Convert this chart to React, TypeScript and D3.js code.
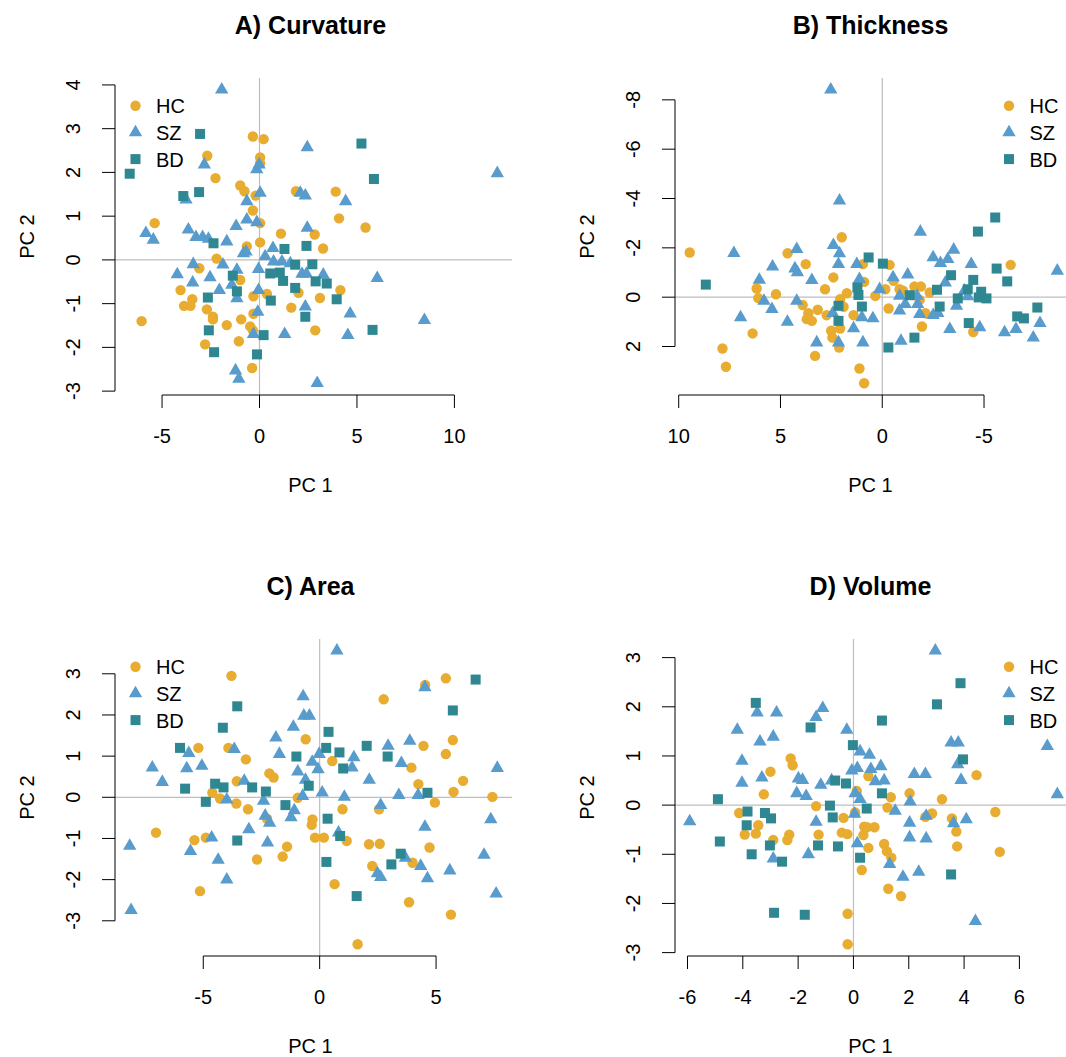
import React from "react";
import * as d3 from "d3";

// PC scores, [PC1, PC2]
const curvHC = [[-0.34,2.82],[0.21,2.76],[-2.68,2.38],[0.03,2.34],[0.03,2.21],[-2.26,1.87],[-0.99,1.7],[-0.77,1.57],[-0.2,1.47],[-0.34,1.13],[0.03,0.84],[-5.38,0.84],[1.1,0.6],[0.03,0.4],[-0.65,0.31],[-2.2,0.03],[-3.09,-0.19],[-0.99,-0.46],[-4.05,-0.69],[-3.45,-0.9],[-3.87,-1.05],[-3.54,-1.05],[-2.7,-1.13],[-2.39,-1.3],[-2.39,-1.36],[-6.05,-1.4],[-1.68,-1.49],[-0.94,-1.36],[-0.48,-1.52],[-0.34,-1.61],[-0.31,-0.83],[0.38,-0.78],[-0.31,-1.23],[-2.79,-1.93],[-1.06,-1.86],[-0.38,-2.47],[2.0,-0.75],[1.63,-1.09],[1.87,1.57],[3.91,1.56],[4.08,0.95],[5.44,0.74],[2.83,0.58],[3.26,0.26],[4.15,-0.69],[3.1,-0.87],[2.86,-1.61]];
const curvSZ = [[-1.94,3.89],[-2.83,2.18],[-0.14,2.07],[-0.02,2.18],[0.03,1.53],[-3.77,1.38],[-0.65,1.34],[-0.65,0.92],[-0.14,0.86],[-1.2,0.77],[-5.83,0.61],[-5.45,0.46],[-3.65,0.69],[-3.26,0.52],[-2.92,0.52],[-2.62,0.48],[-1.68,0.42],[-0.82,0.15],[-0.69,0.19],[0.69,0.27],[0.29,0.08],[1.15,-0.04],[0.72,-0.04],[-3.4,-0.1],[-1.88,-0.11],[-1.16,-0.23],[-0.05,-0.21],[-4.22,-0.33],[-3.43,-0.52],[-2.54,-0.4],[-2.06,-0.69],[-1.42,-0.57],[-1.16,-0.88],[-0.05,-0.69],[-0.09,-1.19],[-0.31,-1.7],[1.29,-1.7],[-1.23,-2.53],[-1.06,-2.72],[2.45,2.57],[2.45,0.73],[2.09,1.53],[2.35,1.47],[1.58,-0.08],[2.18,-0.32],[2.41,-0.32],[2.35,-1.07],[4.42,1.34],[12.2,1.98],[3.27,-0.34],[6.04,-0.42],[4.65,-1.23],[8.46,-1.38],[4.53,-1.72],[2.96,-2.82]];
const curvBD = [[-3.05,2.88],[-6.66,1.97],[-3.91,1.46],[-3.1,1.55],[-2.36,0.38],[1.28,0.25],[2.41,0.32],[1.83,-0.11],[2.71,-0.1],[-1.37,-0.36],[0.55,-0.31],[1.04,-0.29],[1.21,-0.48],[1.83,-0.64],[-1.16,-0.72],[-2.65,-0.86],[0.58,-0.93],[2.35,-1.3],[-2.6,-1.61],[0.21,-1.72],[-2.33,-2.11],[-0.13,-2.16],[5.23,2.66],[5.87,1.85],[2.88,-0.49],[3.45,-0.54],[3.96,-0.9],[5.8,-1.6]];

const thickHC = [[9.46,-1.81],[7.85,2.08],[7.68,2.82],[6.37,1.47],[6.17,-0.35],[6.09,0.04],[5.22,-0.12],[4.65,-1.78],[3.76,-1.34],[3.91,0.32],[3.63,0.65],[3.71,0.89],[3.46,0.96],[3.17,0.51],[2.81,-0.32],[2.4,-0.8],[2.73,0.73],[2.07,0.08],[1.99,-2.43],[1.9,0.39],[1.74,-0.16],[2.51,1.36],[2.45,1.64],[2.07,1.27],[2.12,2.04],[3.3,2.38],[1.41,0.73],[0.95,-1.34],[0.89,-0.62],[1.12,2.89],[0.89,3.49],[-0.36,-1.31],[-0.15,-0.32],[0.34,-0.05],[-0.56,-0.66],[-0.85,-0.32],[-1.02,-0.26],[-1.58,-0.43],[-1.9,-0.43],[-2.33,-0.19],[-1.84,0.11],[-0.31,0.46],[-2.12,0.65],[-1.95,1.19],[-4.47,1.41],[-6.31,-1.31]];
const thickSZ = [[2.53,-8.41],[2.1,-3.91],[7.29,-1.78],[5.39,-1.24],[4.2,-1.95],[4.29,-1.16],[4.17,-1.0],[6.04,-0.7],[3.46,-0.69],[5.81,0.15],[5.42,0.49],[4.2,0.15],[6.96,0.82],[4.66,1.0],[3.22,1.84],[2.4,-2.11],[2.1,-1.77],[2.15,-1.34],[1.25,-1.34],[1.12,-0.73],[2.43,0.65],[1.41,1.27],[2.15,1.84],[0.95,1.84],[1.0,0.82],[-1.87,-2.65],[-2.5,-1.61],[-2.86,-1.38],[-3.22,-1.54],[-3.51,-1.92],[-4.37,-1.34],[-1.25,-0.91],[-0.53,-0.8],[0.13,-0.32],[-0.85,-0.05],[-1.13,0.28],[-1.71,-0.05],[-1.74,0.28],[-0.85,0.55],[-1.84,0.69],[-2.5,0.73],[-2.73,0.65],[-3.1,-0.59],[-3.65,0.35],[-4.04,-0.26],[-4.2,-0.03],[0.46,0.86],[-0.92,1.77],[-3.32,1.3],[-4.79,1.23],[-6.01,1.43],[-6.57,1.3],[-7.42,1.64],[-7.75,1.05],[-8.6,-1.07]];
const thickBD = [[8.67,-0.51],[0.67,-1.61],[1.22,-0.39],[1.17,-0.09],[2.15,0.35],[1.0,0.38],[2.15,0.96],[-0.03,-1.36],[-1.35,-0.08],[-2.69,-0.3],[-3.38,-0.89],[-2.82,0.38],[-3.71,0.05],[-4.2,-0.32],[-4.47,-0.7],[-4.74,0.01],[-4.86,-0.22],[-5.12,0.05],[-4.7,-2.66],[-5.55,-3.23],[-5.62,-1.16],[-6.14,-0.64],[-6.63,0.78],[-6.96,0.86],[-7.62,0.42],[-4.25,1.05],[-1.58,1.64],[-0.3,2.04]];

const areaHC = [[-3.79,2.95],[-5.21,1.2],[-3.92,1.2],[-3.17,0.92],[-0.6,1.41],[-3.56,0.39],[-2.16,0.58],[-1.98,0.48],[-4.61,0.11],[-4.28,-0.03],[-3.58,-0.15],[-3.08,-0.29],[-0.94,-0.01],[-2.26,-0.52],[-0.31,-0.54],[-0.34,-0.67],[-0.2,-0.98],[0.18,-0.98],[-7.03,-0.86],[-5.38,-1.04],[-4.89,-0.98],[-1.4,-1.2],[-2.69,-1.51],[-1.59,-1.44],[-5.14,-2.28],[4.53,2.73],[5.42,2.89],[2.75,2.38],[5.72,1.39],[4.46,1.25],[5.42,1.05],[0.54,0.88],[3.94,0.72],[4.24,0.32],[6.16,0.4],[5.75,0.13],[4.95,-0.13],[7.42,0.01],[0.98,-0.29],[2.55,-0.29],[1.16,-1.06],[2.12,-1.14],[2.58,-1.13],[4.72,-1.22],[2.26,-1.67],[3.99,-1.59],[0.64,-2.11],[3.84,-2.55],[5.64,-2.85],[1.63,-3.57]];
const areaSZ = [[-0.71,2.45],[-0.68,1.98],[-0.44,1.98],[-1.13,1.71],[-1.88,1.45],[-1.73,1.05],[-3.67,1.17],[-5.62,1.07],[-7.19,0.72],[-5.71,0.7],[-5.06,0.76],[-6.76,0.37],[-3.24,0.4],[-0.94,0.62],[-0.32,0.86],[-0.61,0.42],[-0.02,1.05],[-0.07,0.68],[-0.73,0.03],[-3.99,-0.06],[-2.41,-0.09],[-2.34,-0.45],[-2.15,-0.62],[-1.09,-0.32],[-1.23,-0.49],[-3.04,-0.78],[-2.24,-1.1],[-4.64,-0.98],[-8.16,-1.18],[-5.55,-1.31],[-4.36,-1.52],[-3.99,-2.0],[-8.1,-2.74],[0.74,3.56],[4.52,2.67],[3.87,1.37],[2.94,1.25],[1.47,0.97],[1.39,0.72],[3.51,0.83],[2.13,0.42],[7.63,0.71],[0.11,0.11],[1.06,0.01],[3.4,0.05],[4.23,0.05],[2.62,-0.19],[0.81,-0.86],[4.52,-0.72],[7.35,-0.54],[3.68,-1.47],[4.34,-1.67],[2.48,-1.85],[2.62,-1.94],[4.63,-1.97],[5.59,-1.78],[7.06,-1.4],[7.58,-2.34]];
const areaBD = [[-3.54,2.21],[-4.16,1.69],[-6.0,1.2],[-5.78,0.21],[-4.49,0.33],[-4.13,0.24],[-2.9,0.24],[-2.31,0.14],[-4.89,-0.11],[-1.47,-0.19],[-1.0,0.99],[-0.47,0.28],[-3.54,-1.05],[6.7,2.86],[5.72,2.11],[0.38,1.59],[0.28,1.2],[0.85,1.09],[2.02,1.25],[2.92,0.99],[1.01,0.7],[4.63,0.11],[0.34,-0.52],[0.88,-0.94],[0.29,-1.57],[3.48,-1.37],[3.08,-1.63],[1.59,-2.4]];

const volHC = [[-2.27,0.95],[-2.2,0.81],[-3.0,0.68],[-3.24,0.22],[-4.13,-0.16],[-1.35,-0.02],[-0.36,-0.26],[0.06,-0.15],[0.12,0.29],[-3.44,-0.41],[-3.93,-0.6],[-3.53,-0.58],[-2.9,-0.71],[-2.32,-0.6],[-2.39,-0.71],[-1.26,-0.6],[-0.42,-0.56],[-0.22,-0.59],[0.39,-0.44],[0.36,-0.61],[0.54,-0.87],[0.3,-1.32],[-0.21,-2.21],[-0.21,-2.83],[0.54,0.59],[2.03,0.24],[1.35,0.16],[1.23,-0.05],[3.2,0.12],[5.13,-0.14],[4.45,0.61],[2.6,-0.24],[2.84,-0.17],[3.56,-0.27],[3.72,-0.54],[3.75,-0.84],[5.29,-0.95],[0.49,-0.45],[0.76,-0.45],[1.11,-0.79],[1.21,-0.94],[1.37,-1.07],[1.26,-1.7],[1.72,-1.85]];
const volSZ = [[-3.48,1.88],[-2.78,1.88],[-4.2,1.53],[-3.38,1.29],[-2.9,1.39],[-1.11,1.97],[-1.35,1.79],[-0.24,1.53],[0.24,1.09],[-4.03,0.9],[-3.31,0.56],[-4.03,0.45],[-1.99,0.54],[-1.84,0.51],[-2.05,0.24],[-1.71,0.18],[-1.18,0.41],[-0.79,0.5],[-0.06,0.7],[0.14,0.75],[0.06,0.24],[0.24,0.12],[0.04,-0.18],[-1.35,-0.34],[-5.92,-0.33],[0.14,-0.78],[-2.9,-1.09],[-1.63,-1.0],[2.96,3.14],[3.53,1.27],[3.79,1.27],[7.01,1.2],[3.77,0.83],[3.89,0.51],[7.37,0.22],[0.58,1.02],[0.63,0.73],[0.99,0.79],[0.79,0.48],[1.11,0.5],[2.05,0.07],[2.2,0.63],[2.6,0.63],[1.51,-0.12],[2.63,-0.22],[2.03,-0.36],[3.62,-0.37],[4.08,-0.29],[2.03,-0.66],[2.63,-0.68],[1.31,-1.2],[1.79,-1.46],[2.36,-1.36],[4.41,-2.36]];
const volBD = [[-3.53,2.08],[-1.55,1.58],[-0.02,1.22],[-0.66,0.5],[-0.27,0.44],[-4.9,0.12],[-3.83,-0.13],[-3.2,-0.16],[-2.98,-0.27],[-3.86,-0.41],[-0.85,-0.01],[-0.75,-0.25],[-4.83,-0.74],[-3.02,-0.82],[-3.68,-1.0],[-2.58,-1.15],[-1.28,-0.82],[-0.56,-0.84],[0.24,-1.07],[0.48,-0.07],[-2.87,-2.19],[-1.76,-2.23],[1.03,1.72],[3.87,2.48],[3.02,2.05],[3.96,0.93],[1.03,0.24],[3.53,-1.41]];

const groups = ["HC", "SZ", "BD"];
const colors = { HC: "#E8AC30", SZ: "#589BCD", BD: "#2F8792" };

const curvXTicks = [-5, 0, 5, 10];
const curvYTicks = [-3, -2, -1, 0, 1, 2, 3, 4];
const thickXTicks = [10, 5, 0, -5];
const thickYTicks = [-8, -6, -4, -2, 0, 2];
const areaXTicks = [-5, 0, 5];
const areaYTicks = [-3, -2, -1, 0, 1, 2, 3];
const volXTicks = [-6, -4, -2, 0, 2, 4, 6];
const volYTicks = [-3, -2, -1, 0, 1, 2, 3];

const W = 397;
const H = 317;
const font = "'Liberation Sans', Arial, Helvetica, sans-serif";
const triPath = d3.symbol(d3.symbolTriangle, 77)();

const Marker = ({ g, cx, cy }) => {
  if (g === "HC") return <circle cx={cx} cy={cy} r={5.2} fill={colors.HC} />;
  if (g === "SZ") return <path d={triPath} transform={`translate(${cx},${cy})`} fill={colors.SZ} />;
  return <rect x={cx - 5} y={cy - 5} width={10} height={10} fill={colors.BD} />;
};

// R's default 4% axis expansion
const pad = (ext) => {
  const r = ext[1] - ext[0];
  return [ext[0] - 0.04 * r, ext[1] + 0.04 * r];
};

const Panel = ({ title, left, top, data, xTicks, yTicks, flip, legendRight }) => {
  const all = [...data.HC, ...data.SZ, ...data.BD];
  const xd = pad(d3.extent(all, (d) => d[0]));
  const yd = pad(d3.extent(all, (d) => d[1]));
  const x = d3.scaleLinear().domain(flip ? [xd[1], xd[0]] : xd).range([0, W]);
  const y = d3.scaleLinear().domain(flip ? yd : [yd[1], yd[0]]).range([0, H]);
  const xs = xTicks.map(x);
  const ys = yTicks.map(y);
  const lx = legendRight ? 334 : 20.5;

  return (
    <g transform={`translate(${left},${top})`} fontFamily={font}>
      <text x={W / 2 - 3} y={-44} textAnchor="middle" fontSize={25} fontWeight="bold">{title}</text>
      <line x1={x(0)} x2={x(0)} y1={0} y2={H} stroke="#bebebe" strokeWidth={1.2} />
      <line x1={0} x2={W} y1={y(0)} y2={y(0)} stroke="#bebebe" strokeWidth={1.2} />
      {groups.map((g) =>
        data[g].map((d, i) => <Marker key={g + i} g={g} cx={x(d[0])} cy={y(d[1])} />)
      )}
      {/* x axis */}
      <line x1={d3.min(xs)} x2={d3.max(xs)} y1={H} y2={H} stroke="#000" />
      {xTicks.map((t) => (
        <g key={"x" + t}>
          <line x1={x(t)} x2={x(t)} y1={H} y2={H + 13} stroke="#000" />
          <text x={x(t)} y={H + 48} textAnchor="middle" fontSize={20}>{t}</text>
        </g>
      ))}
      <text x={W / 2 - 3} y={H + 97} textAnchor="middle" fontSize={20}>PC 1</text>
      {/* y axis */}
      <line x1={0} x2={0} y1={d3.min(ys)} y2={d3.max(ys)} stroke="#000" />
      {yTicks.map((t) => (
        <g key={"y" + t}>
          <line x1={0} x2={-13} y1={y(t)} y2={y(t)} stroke="#000" />
          <text transform={`translate(${-35},${y(t)}) rotate(-90)`} textAnchor="middle" fontSize={20}>{t}</text>
        </g>
      ))}
      <text transform={`translate(${-81},${H / 2}) rotate(-90)`} textAnchor="middle" fontSize={20}>PC 2</text>
      {/* legend */}
      {groups.map((g, i) => (
        <g key={"l" + g}>
          <Marker g={g} cx={lx} cy={27.7 + i * 26.7} />
          <text x={lx + 20.5} y={27.7 + i * 26.7 + 7.5} fontSize={20}>{g}</text>
        </g>
      ))}
    </g>
  );
};

export default function App() {
  return (
    <svg width={1066} height={1057} style={{ position: "absolute", left: 0, top: 0, background: "#fff" }}>
      <rect width={1066} height={1057} fill="#fff" />
      <Panel title="A) Curvature" left={115} top={78} data={{ HC: curvHC, SZ: curvSZ, BD: curvBD }} xTicks={curvXTicks} yTicks={curvYTicks} />
      <Panel title="B) Thickness" left={675} top={78} data={{ HC: thickHC, SZ: thickSZ, BD: thickBD }} xTicks={thickXTicks} yTicks={thickYTicks} flip legendRight />
      <Panel title="C) Area" left={115} top={639} data={{ HC: areaHC, SZ: areaSZ, BD: areaBD }} xTicks={areaXTicks} yTicks={areaYTicks} />
      <Panel title="D) Volume" left={675} top={639} data={{ HC: volHC, SZ: volSZ, BD: volBD }} xTicks={volXTicks} yTicks={volYTicks} legendRight />
    </svg>
  );
}
